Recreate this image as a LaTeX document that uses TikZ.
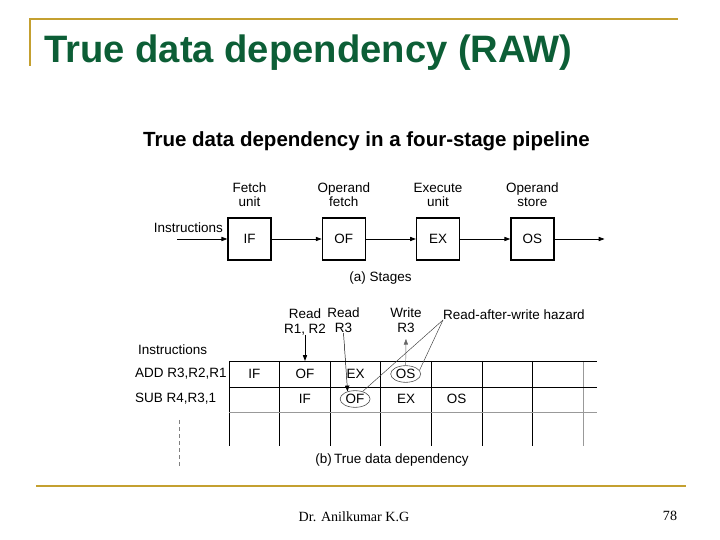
\documentclass[tikz,border=0pt]{standalone}
\usepackage{fontspec}
\setmainfont{Liberation Serif}
\newfontfamily\arialfont{Liberation Sans}
\usetikzlibrary{shapes.geometric,arrows.meta,positioning,calc}
\definecolor{slidegold}{RGB}{196,160,48}
\definecolor{slidegreen}{RGB}{12,94,54}

\begin{document}
\begin{tikzpicture}[
  x=0.03cm, y=-0.03cm,
  node distance = 1.5cm,
  txt/.style      = {font=\arialfont\fontsize{11.5}{12.5}\selectfont,
                     inner sep=0pt, align=center},
  stagebox/.style = {txt, draw, line width=1.1pt, minimum width=1.29cm, minimum height=1.26cm},
  hit/.style      = {ellipse, draw=black!70, line width=0.5pt, minimum width=0.9cm,
                     minimum height=0.5cm, inner sep=0pt},
  arr/.style      = {-{Triangle[length=5pt,width=3.6pt]}, line width=0.7pt},
  gridline/.style = {line width=0.8pt},
  rule/.style     = {draw=slidegold, line width=2.2pt},
]
\useasboundingbox (0,0) rectangle (720,540);

%% --- slide frame ---------------------------------------------------------
\draw[rule] (30,66) -- (30,19) -- (678,19);
\draw[rule] (36,486) -- (686,486);
\node[anchor=base west, inner sep=0pt, text=slidegreen,
      font=\arialfont\bfseries\fontsize{32.6}{36}\selectfont] (title) at (44,63)
  {True data dependency (RAW)};
\node[anchor=base, inner sep=0pt, font=\fontsize{12}{14}\selectfont] (author) at (354,521)
  {Dr. Anilkumar K.G};
\node[anchor=base, inner sep=0pt, font=\fontsize{12}{14}\selectfont] (page) at (670,520) {78};

%% --- figure heading ------------------------------------------------------
\node[anchor=base west, inner sep=0pt,
      font=\arialfont\bfseries\fontsize{17.5}{20}\selectfont] (fig) at (143,147)
  {True data dependency in a four-stage pipeline};

%% --- (a) stages ----------------------------------------------------------
\node[stagebox] (if) at (249.5,239) {IF};
\node[stagebox, right=of if] (of) {OF};
\node[stagebox, right=of of] (ex) {EX};
\node[stagebox, right=of ex] (os) {OS};

\node[txt, above=0.3cm of if] (ifl) {Fetch\\unit};
\node[txt, above=0.3cm of of] (ofl) {Operand\\fetch};
\node[txt, above=0.3cm of ex] (exl) {Execute\\unit};
\node[txt, above=0.3cm of os] (osl) {Operand\\store};

\coordinate[left=1.5cm of if] (inl);
\coordinate[right=1.5cm of os] (outr);
\node[txt, anchor=south east] (instr) at (223,233) {Instructions};

\foreach \a/\b in {inl/if, if/of, of/ex, ex/os, os/outr}
  \draw[arr] (\a) -- (\b);

\node[txt] (capa) at (380.5,278) {(a) Stages};

%% --- (b) pipeline table --------------------------------------------------
\coordinate (gtop) at (229,361);
\foreach \i in {0,...,6}
  \draw[gridline] (229+50.6*\i,361) -- (229+50.6*\i,446);
\draw[gridline, black!40] (583.2,361) -- (583.2,446);
\draw[gridline] (gtop) -- (597,361);
\draw[gridline] (229,387) -- (597,387);
\draw[gridline, black!40] (229,412) -- (597,412);

\node[txt, anchor=west] (instb) at (138,350) {Instructions};
\node[txt, anchor=west] (add) at (135,374) {ADD R3,R2,R1};
\node[txt, anchor=west] (sub) at (135,399) {SUB R4,R3,1};

\foreach \t/\c/\n in {IF/0/aif, OF/1/aof, EX/2/aex}
  \node[txt] (\n) at (254.3+50.6*\c,374) {\t};
\node[txt, hit] (aos) at (405.7,374) {OS};
\foreach \t/\c/\n in {IF/1/bif, EX/3/bex, OS/4/bos}
  \node[txt] (\n) at (254.3+50.6*\c,399) {\t};
\node[txt, hit] (bof) at (355.1,399) {OF};

\node[txt, anchor=south] (rd1) at (305,335) {Read\\R1, R2};
\node[txt, anchor=south] (rd2) at (343.5,333) {Read\\R3};
\node[txt, anchor=south] (wr)  at (406,333) {Write\\R3};
\node[txt, anchor=south west] (haz) at (443,320) {Read-after-write hazard};

\draw[arr] (rd1.south) -- (rd1.south |- gtop);
\draw[arr, line width=0.4pt] (rd2.south) -- (bof.135);
\draw[arr, line width=0.4pt, black!60, shorten >=5pt] (aos.north) -- (wr.south);
\draw[line width=0.4pt, black!75] (haz.south west) -- (aos.15);
\draw[line width=0.4pt, black!75] (haz.south west) -- (bof.45);

\coordinate (dtop) at (179,420);
\coordinate (dbot) at (179,468);
\draw[black!50, dash pattern=on 3pt off 3pt] (dtop) -- (dbot);

\node[txt] (capb) at (392,460) {(b)\,True data dependency};

\end{tikzpicture}
\end{document}
